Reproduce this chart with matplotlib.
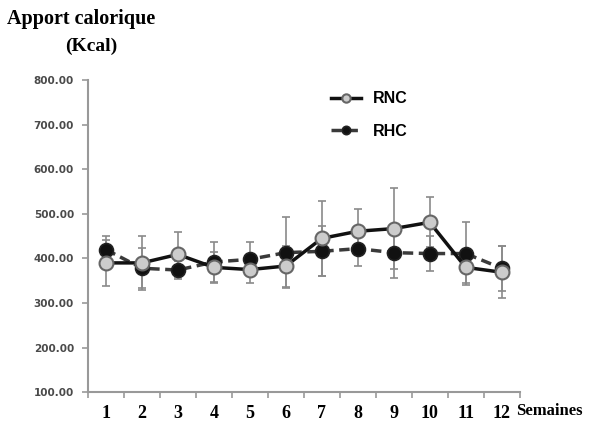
import numpy as np
import matplotlib
matplotlib.use("Agg")
import matplotlib.pyplot as plt

weeks = list(range(1, 13))
week_labels = [str(w) for w in weeks]

rnc = [390, 390, 409, 380, 375, 383, 445, 461, 467, 481, 380, 369]
rnc_err = [52, 60, 50, 35, 30, 46, 85, 51, 90, 56, 36, 58]

rhc = [420, 378, 374, 392, 398, 413, 416, 422, 413, 411, 411, 378]
rhc_err = [30, 45, 20, 45, 38, 79, 56, 38, 56, 40, 70, 50]

fig = plt.figure(figsize=(5.98, 4.29), dpi=100)
ax = fig.add_axes([0.147, 0.086, 0.722, 0.727])

# error bars first so markers sit on top
ax.errorbar(weeks, rnc, yerr=rnc_err, fmt="none", ecolor="#8a8a8a",
            elinewidth=1.2, capsize=3, capthick=1.2, zorder=1)
ax.errorbar(weeks, rhc, yerr=rhc_err, fmt="none", ecolor="#8a8a8a",
            elinewidth=1.2, capsize=3, capthick=1.2, zorder=1)

ax.plot(weeks, rhc, color="#3a3a3a", lw=2.5, ls=(0, (3, 1.6)),
        marker="o", ms=10, mfc="#111111", mec="#222222", mew=1.2,
        label="RHC", zorder=2)
ax.plot(weeks, rnc, color="#111111", lw=2.5, ls="-",
        marker="o", ms=10, mfc="#cccccc", mec="#666666", mew=1.5,
        label="RNC", zorder=3)

ax.set_xlim(0.5, 12.5)
ax.set_ylim(100, 800)
ax.set_yticks(np.arange(100, 801, 100))
ax.set_yticklabels([f"{v:.2f}" for v in np.arange(100, 801, 100)],
                   fontsize=7.5, fontweight="bold", color="#4a4a4a",
                   family="DejaVu Sans")
ax.set_xticks(weeks)
ax.set_xticklabels(week_labels, fontsize=13, fontweight="bold",
                   family="Liberation Serif", color="black")
ax.set_xticks(np.arange(0.5, 12.6, 1), minor=True)
ax.tick_params(axis="x", which="major", length=0, pad=9)
ax.tick_params(axis="x", which="minor", length=4, color="#999999", width=1.2)
ax.tick_params(axis="y", length=4, color="#999999", width=1.2, pad=6)

for side in ["top", "right"]:
    ax.spines[side].set_visible(False)
for side in ["left", "bottom"]:
    ax.spines[side].set_color("#999999")
    ax.spines[side].set_linewidth(1.5)

handles, labels = ax.get_legend_handles_labels()
leg = ax.legend(handles[::-1], labels[::-1], loc="upper left",
                bbox_to_anchor=(0.53, 1.01), frameon=False,
                prop={"family": "Liberation Sans", "weight": "bold", "size": 11.5},
                handlelength=1.9, handletextpad=0.7, labelspacing=1.1,
                markerscale=0.6)

fig.text(0.135, 0.955, "Apport calorique", ha="center", va="center",
         family="Liberation Serif", fontweight="bold", fontsize=14.5)
fig.text(0.152, 0.893, "(Kcal)", ha="center", va="center",
         family="Liberation Serif", fontweight="bold", fontsize=14)
fig.text(0.863, 0.042, "Semaines", ha="left", va="center",
         family="Liberation Serif", fontweight="bold", fontsize=12)

fig.savefig("out.png", dpi=100)
